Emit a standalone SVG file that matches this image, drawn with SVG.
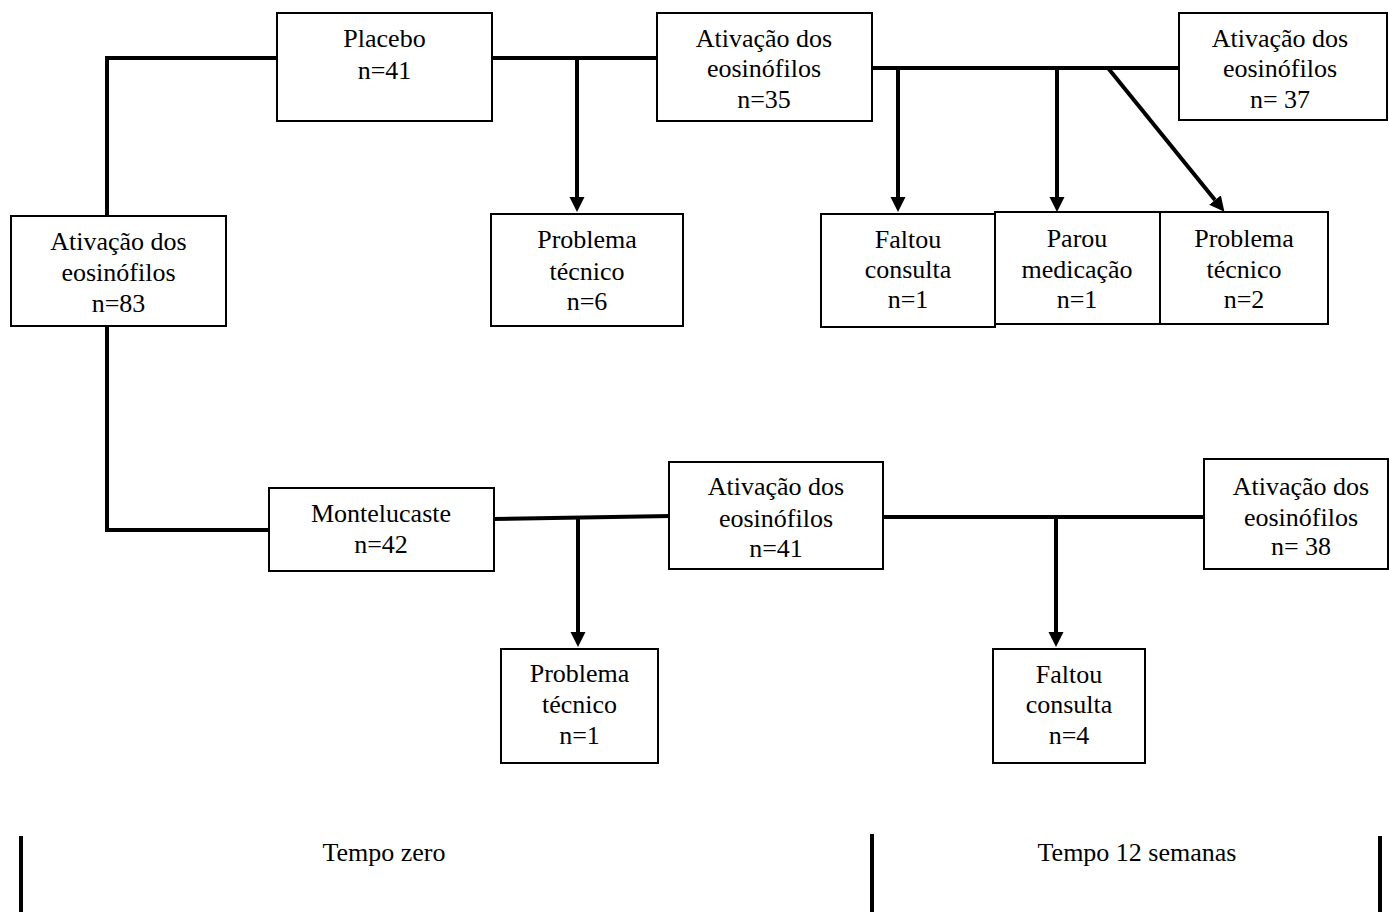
<svg xmlns="http://www.w3.org/2000/svg" width="1389" height="912" viewBox="0 0 1389 912">
  <style>
    .box { fill: #ffffff; stroke: #000000; stroke-width: 2; }
    .lbl { font-family: "Liberation Serif", "Times New Roman", serif; font-size: 26px; fill: #000000; text-anchor: middle; }
    .link { fill: none; stroke: #000000; stroke-width: 4; stroke-linecap: square; }
    .arrow { fill: none; stroke: #000000; stroke-width: 4; marker-end: url(#head); }
    .axis { fill: none; stroke: #000000; stroke-width: 4; }
  </style>
  <defs>
    <marker id="head" markerUnits="userSpaceOnUse" markerWidth="16" markerHeight="16" viewBox="0 0 16 16" refX="0" refY="7.5" orient="auto">
      <path d="M0,0 L15,7.5 L0,15 Z" fill="#000000"/>
    </marker>
  </defs>
  <rect width="1389" height="912" fill="#ffffff"/>

  <!-- connectors -->
  <g id="connectors">
    <!-- baseline split into the two arms -->
    <polyline class="link" points="277,58 107,58 107,216"/>
    <polyline class="link" points="107,326 107,530 269,530"/>
    <!-- placebo arm -->
    <line class="link" x1="492" y1="58" x2="657" y2="58"/>
    <line class="arrow" x1="577" y1="58" x2="577" y2="197"/>
    <line class="link" x1="872" y1="68" x2="1179" y2="68"/>
    <line class="arrow" x1="898" y1="68" x2="898" y2="197"/>
    <line class="arrow" x1="1057" y1="68" x2="1057" y2="197"/>
    <line class="arrow" x1="1108" y1="68" x2="1215" y2="200"/>
    <!-- montelukast arm -->
    <line class="link" x1="494" y1="519" x2="669" y2="516"/>
    <line class="arrow" x1="578" y1="518" x2="578" y2="632"/>
    <line class="link" x1="883" y1="517" x2="1204" y2="517"/>
    <line class="arrow" x1="1056" y1="517" x2="1056" y2="632"/>
  </g>

  <g id="n83">
    <rect class="box" x="11" y="216" width="215" height="110"/>
    <text class="lbl" x="118.5" y="250">Ativação dos</text>
    <text class="lbl" x="118.5" y="281">eosinófilos</text>
    <text class="lbl" x="118.5" y="312">n=83</text>
  </g>

  <g id="placebo">
    <rect class="box" x="277" y="13" width="215" height="108"/>
    <text class="lbl" x="384.5" y="47">Placebo</text>
    <text class="lbl" x="384.5" y="79">n=41</text>
  </g>

  <g id="placebo-base">
    <rect class="box" x="657" y="13" width="215" height="108"/>
    <text class="lbl" x="764" y="47">Ativação dos</text>
    <text class="lbl" x="764" y="77">eosinófilos</text>
    <text class="lbl" x="764" y="108">n=35</text>
  </g>

  <g id="placebo-tech">
    <rect class="box" x="491" y="214" width="192" height="112"/>
    <text class="lbl" x="587" y="248">Problema</text>
    <text class="lbl" x="587" y="280">técnico</text>
    <text class="lbl" x="587" y="310">n=6</text>
  </g>

  <g id="placebo-week12">
    <rect class="box" x="1179" y="13" width="208" height="107"/>
    <text class="lbl" x="1280" y="47">Ativação dos</text>
    <text class="lbl" x="1280" y="77">eosinófilos</text>
    <text class="lbl" x="1280" y="108">n= 37</text>
  </g>

  <g id="placebo-missed">
    <rect class="box" x="821" y="214" width="174" height="113"/>
    <text class="lbl" x="908" y="248">Faltou</text>
    <text class="lbl" x="908" y="278">consulta</text>
    <text class="lbl" x="908" y="308">n=1</text>
  </g>

  <g id="placebo-stopped">
    <rect class="box" x="995" y="212" width="165" height="112"/>
    <text class="lbl" x="1077" y="247">Parou</text>
    <text class="lbl" x="1077" y="278">medicação</text>
    <text class="lbl" x="1077" y="308">n=1</text>
  </g>

  <g id="placebo-tech2">
    <rect class="box" x="1160" y="212" width="168" height="112"/>
    <text class="lbl" x="1244" y="247">Problema</text>
    <text class="lbl" x="1244" y="278">técnico</text>
    <text class="lbl" x="1244" y="308">n=2</text>
  </g>

  <g id="montelukast">
    <rect class="box" x="269" y="488" width="225" height="83"/>
    <text class="lbl" x="381" y="522">Montelucaste</text>
    <text class="lbl" x="381" y="553">n=42</text>
  </g>

  <g id="montelukast-base">
    <rect class="box" x="669" y="462" width="214" height="107"/>
    <text class="lbl" x="776" y="495">Ativação dos</text>
    <text class="lbl" x="776" y="527">eosinófilos</text>
    <text class="lbl" x="776" y="557">n=41</text>
  </g>

  <g id="montelukast-tech">
    <rect class="box" x="501" y="649" width="157" height="114"/>
    <text class="lbl" x="579.5" y="682">Problema</text>
    <text class="lbl" x="579.5" y="713">técnico</text>
    <text class="lbl" x="579.5" y="744">n=1</text>
  </g>

  <g id="montelukast-missed">
    <rect class="box" x="993" y="649" width="152" height="114"/>
    <text class="lbl" x="1069" y="683">Faltou</text>
    <text class="lbl" x="1069" y="713">consulta</text>
    <text class="lbl" x="1069" y="744">n=4</text>
  </g>

  <g id="montelukast-week12">
    <rect class="box" x="1204" y="459" width="184" height="110"/>
    <text class="lbl" x="1301" y="495">Ativação dos</text>
    <text class="lbl" x="1301" y="526">eosinófilos</text>
    <text class="lbl" x="1301" y="555">n= 38</text>
  </g>

  <!-- time axis -->
  <g id="timeline">
    <line class="axis" x1="21" y1="836" x2="21" y2="912"/>
    <line class="axis" x1="872" y1="834" x2="872" y2="912"/>
    <line class="axis" x1="1380" y1="836" x2="1380" y2="912"/>
    <text class="lbl" x="384" y="861">Tempo zero</text>
    <text class="lbl" x="1137" y="861">Tempo 12 semanas</text>
  </g>
</svg>
